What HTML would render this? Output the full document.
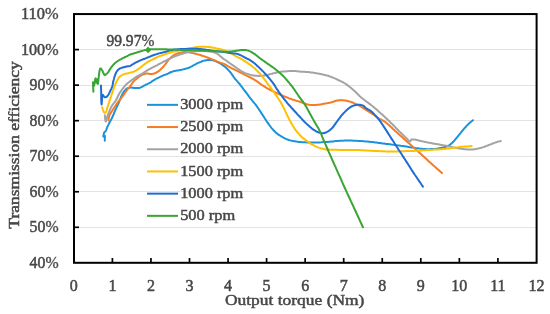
<!DOCTYPE html>
<html><head><meta charset="utf-8"><style>
html,body{margin:0;padding:0;background:#fff;width:550px;height:314px;overflow:hidden;}
svg{display:block;will-change:transform;}
text{font-family:"Liberation Serif",serif;}
</style></head><body>
<svg width="550" height="314" viewBox="0 0 550 314"><line x1="75" y1="49.50" x2="535.5" y2="49.50" stroke="#e2e2e2" stroke-width="1"/>
<line x1="75" y1="85.50" x2="535.5" y2="85.50" stroke="#e2e2e2" stroke-width="1"/>
<line x1="75" y1="120.50" x2="535.5" y2="120.50" stroke="#e2e2e2" stroke-width="1"/>
<line x1="75" y1="156.50" x2="535.5" y2="156.50" stroke="#e2e2e2" stroke-width="1"/>
<line x1="75" y1="191.50" x2="535.5" y2="191.50" stroke="#e2e2e2" stroke-width="1"/>
<line x1="75" y1="227.50" x2="535.5" y2="227.50" stroke="#e2e2e2" stroke-width="1"/>
<polyline points="104.8,140.8 104.8,139.8 104.8,138.7 104.9,137.6 104.9,136.6 104.8,135.8 104.6,135.5 104.4,135.5 104.2,135.8 104.0,136.0 103.7,136.3 103.5,136.5 103.4,136.6 103.3,136.3 103.4,135.6 103.6,134.7 103.8,133.8 104.1,132.9 104.4,132.3 104.6,132.1 104.8,131.9 105.0,131.7 105.2,131.6 105.4,131.4 105.6,131.2 105.9,130.7 106.2,130.0 106.5,129.3 106.7,128.5 107.0,127.8 107.3,127.1 107.6,126.5 107.8,126.0 108.1,125.4 108.4,124.9 108.6,124.4 108.9,123.8 109.2,123.2 109.5,122.6 109.9,122.0 110.2,121.4 110.5,120.8 110.8,120.2 111.1,119.7 111.3,119.2 111.6,118.7 111.8,118.3 112.1,117.8 112.3,117.3 112.5,116.8 112.7,116.3 113.0,115.8 113.2,115.3 113.4,114.8 113.6,114.3 113.9,113.7 114.1,113.0 114.4,112.3 114.7,111.6 115.0,110.9 115.3,110.2 115.6,109.5 115.9,108.8 116.2,108.1 116.6,107.4 116.9,106.7 117.2,106.0 117.5,105.3 117.8,104.6 118.2,104.0 118.5,103.3 118.8,102.6 119.1,101.9 119.4,101.1 119.7,100.3 120.0,99.5 120.4,98.7 120.7,98.0 121.0,97.2 121.3,96.5 121.6,95.8 121.9,95.1 122.2,94.4 122.6,93.8 122.9,93.2 123.2,92.7 123.5,92.3 123.8,91.8 124.1,91.4 124.5,91.0 124.8,90.6 125.1,90.2 125.4,89.9 125.7,89.5 126.0,89.2 126.4,88.9 126.8,88.6 127.3,88.3 127.9,88.1 128.6,87.9 129.2,87.8 129.9,87.7 130.6,87.6 131.4,87.6 132.3,87.7 133.1,87.8 134.0,87.9 134.9,88.0 135.7,88.1 136.4,88.1 137.0,88.1 137.6,88.1 138.2,88.1 138.9,88.0 139.5,87.9 140.3,87.6 141.2,87.2 142.0,86.8 142.9,86.3 143.7,85.8 144.6,85.3 145.5,84.9 146.3,84.5 147.2,84.1 148.0,83.7 148.9,83.3 149.7,82.8 150.6,82.3 151.4,81.8 152.3,81.2 153.1,80.7 153.9,80.1 154.8,79.6 155.6,79.1 156.5,78.7 157.4,78.2 158.2,77.8 159.1,77.4 159.9,77.0 160.6,76.6 161.3,76.3 162.1,76.0 162.8,75.6 163.4,75.3 164.0,75.1 164.4,75.0 164.7,74.9 165.0,74.8 165.3,74.7 165.6,74.6 166.0,74.5 166.9,74.1 167.9,73.7 169.0,73.1 170.1,72.5 171.3,72.0 172.4,71.6 173.5,71.3 174.6,71.0 175.8,70.8 176.9,70.6 178.0,70.4 179.1,70.2 179.9,70.0 180.8,69.9 181.6,69.7 182.3,69.6 183.1,69.4 183.9,69.2 184.7,69.0 185.5,68.8 186.3,68.6 187.1,68.3 187.9,68.1 188.7,67.8 189.5,67.5 190.3,67.1 191.0,66.7 191.8,66.3 192.6,65.8 193.4,65.4 194.4,64.9 195.5,64.3 196.6,63.7 197.7,63.1 198.9,62.6 200.0,62.1 201.1,61.7 202.1,61.3 203.2,60.9 204.3,60.6 205.3,60.4 206.4,60.2 207.4,60.1 208.5,60.0 209.6,60.0 210.6,60.0 211.7,60.1 212.7,60.3 213.8,60.6 214.9,60.9 215.9,61.3 217.0,61.8 218.1,62.3 219.1,62.8 220.2,63.4 221.3,64.1 222.4,64.9 223.5,65.7 224.5,66.5 225.5,67.3 226.4,68.1 227.3,68.9 228.1,69.8 228.9,70.6 229.7,71.5 230.5,72.4 231.2,73.3 231.8,74.2 232.4,75.2 233.1,76.1 233.7,77.0 234.4,78.0 235.3,79.1 236.2,80.1 237.2,81.2 238.1,82.3 239.1,83.4 240.0,84.5 240.8,85.6 241.6,86.6 242.4,87.7 243.2,88.8 244.0,89.9 244.9,91.0 246.0,92.4 247.1,93.9 248.2,95.4 249.3,96.9 250.4,98.3 251.5,99.7 252.4,100.8 253.3,101.8 254.1,102.9 255.0,103.9 255.8,104.9 256.7,106.1 257.8,107.7 258.9,109.3 260.1,111.1 261.2,112.9 262.4,114.6 263.4,116.2 264.2,117.4 265.0,118.7 265.7,119.8 266.5,121.0 267.2,122.1 268.0,123.2 268.8,124.3 269.5,125.3 270.3,126.3 271.0,127.3 271.8,128.3 272.6,129.2 273.3,130.0 274.0,130.8 274.8,131.5 275.5,132.2 276.2,132.9 277.0,133.5 277.8,134.1 278.5,134.6 279.3,135.2 280.1,135.7 280.9,136.1 281.7,136.6 282.4,137.0 283.1,137.4 283.8,137.8 284.5,138.2 285.3,138.6 286.0,138.9 286.7,139.2 287.5,139.5 288.2,139.7 289.0,140.0 289.7,140.2 290.5,140.4 291.2,140.6 292.0,140.8 292.7,140.9 293.5,141.0 294.2,141.2 295.0,141.3 295.8,141.4 296.5,141.6 297.3,141.7 298.1,141.8 299.0,141.9 300.0,142.0 302.1,142.2 304.6,142.3 307.4,142.4 310.3,142.5 313.1,142.5 315.9,142.5 318.6,142.4 321.4,142.3 324.2,142.1 326.9,141.9 329.5,141.7 331.8,141.5 333.2,141.4 334.4,141.2 335.6,141.1 336.7,141.0 337.9,140.9 339.2,140.8 340.9,140.7 342.7,140.7 344.5,140.6 346.4,140.6 348.2,140.6 350.0,140.6 351.7,140.6 353.3,140.7 355.0,140.7 356.6,140.8 358.3,140.9 360.0,141.0 361.8,141.1 363.7,141.2 365.5,141.4 367.4,141.5 369.2,141.7 371.1,141.9 373.0,142.1 374.8,142.4 376.7,142.6 378.6,142.9 380.4,143.1 382.3,143.4 384.2,143.6 386.0,143.9 387.9,144.1 389.7,144.3 391.5,144.6 393.4,144.8 395.3,145.0 397.1,145.3 399.0,145.5 400.9,145.8 402.7,146.0 404.6,146.3 406.5,146.6 408.3,146.9 410.1,147.2 412.0,147.5 413.8,147.8 415.7,148.1 417.6,148.3 419.5,148.6 421.4,148.8 423.2,149.0 425.1,149.1 426.9,149.2 428.5,149.2 430.1,149.2 431.6,149.1 433.1,149.0 434.6,148.9 436.0,148.8 437.1,148.7 438.2,148.5 439.3,148.3 440.3,148.1 441.2,148.0 442.0,147.8 442.4,147.7 442.7,147.6 443.0,147.6 443.3,147.5 443.6,147.4 444.0,147.3 444.5,147.1 445.1,147.0 445.8,146.8 446.4,146.6 447.0,146.3 447.6,146.1 448.1,145.8 448.6,145.6 449.1,145.3 449.6,145.0 450.0,144.6 450.5,144.3 451.0,143.9 451.5,143.4 452.0,143.0 452.5,142.5 453.0,142.0 453.5,141.5 454.0,140.9 454.5,140.4 455.0,139.8 455.5,139.2 456.0,138.6 456.5,138.0 457.0,137.4 457.5,136.8 458.0,136.2 458.5,135.5 459.0,134.9 459.5,134.3 460.0,133.7 460.5,133.1 461.0,132.4 461.5,131.8 462.0,131.2 462.5,130.6 463.0,130.0 463.5,129.4 464.0,128.8 464.5,128.3 465.0,127.7 465.5,127.1 466.1,126.5 466.6,125.9 467.2,125.3 467.8,124.7 468.4,124.1 469.0,123.5 469.6,122.9 470.3,122.4 471.0,121.8 471.7,121.3 472.3,120.7 473.0,120.2" fill="none" stroke="#1b93db" stroke-width="2.0" stroke-linejoin="round" stroke-linecap="round"/>
<polyline points="108.6,120.5 108.7,119.8 108.7,119.1 108.7,118.4 108.8,117.7 108.9,117.0 109.1,116.2 109.5,115.2 110.1,114.1 110.7,113.0 111.4,111.9 112.2,110.7 112.9,109.6 113.7,108.3 114.6,107.0 115.5,105.7 116.4,104.4 117.2,103.2 118.1,102.0 118.8,101.1 119.5,100.2 120.2,99.3 120.9,98.5 121.6,97.6 122.3,96.7 123.0,95.7 123.7,94.8 124.4,93.8 125.1,92.8 125.7,91.8 126.4,90.9 127.0,90.2 127.5,89.5 128.0,88.8 128.6,88.2 129.1,87.5 129.7,86.8 130.4,85.9 131.1,84.8 131.9,83.8 132.6,82.7 133.3,81.8 134.0,81.0 134.4,80.6 134.8,80.2 135.3,79.8 135.7,79.5 136.1,79.2 136.5,78.8 137.0,78.4 137.4,78.0 137.9,77.6 138.4,77.2 138.9,76.8 139.5,76.4 140.3,75.9 141.1,75.4 142.0,75.0 142.9,74.5 143.8,74.2 144.6,73.9 145.1,73.8 145.6,73.7 146.1,73.6 146.6,73.6 147.0,73.6 147.5,73.6 148.0,73.6 148.5,73.7 149.0,73.8 149.5,73.9 150.0,74.0 150.5,74.0 150.9,74.0 151.4,74.0 151.8,74.0 152.2,73.9 152.6,73.9 153.0,73.8 153.4,73.7 153.8,73.6 154.3,73.5 154.7,73.3 155.1,73.2 155.5,73.0 155.9,72.8 156.4,72.6 156.8,72.3 157.2,72.0 157.6,71.8 158.0,71.5 158.3,71.3 158.7,71.1 159.0,70.8 159.3,70.6 159.6,70.3 160.0,70.0 160.7,69.3 161.5,68.6 162.3,67.7 163.2,66.8 164.0,65.8 164.8,64.9 165.6,63.9 166.4,62.8 167.2,61.7 168.0,60.6 168.8,59.6 169.6,58.7 170.4,58.0 171.1,57.3 171.9,56.6 172.7,56.0 173.5,55.4 174.3,54.9 175.1,54.5 175.9,54.1 176.7,53.8 177.5,53.5 178.3,53.2 179.1,53.0 179.9,52.8 180.7,52.6 181.5,52.4 182.3,52.2 183.1,52.1 183.9,52.0 184.7,52.0 185.5,52.0 186.3,52.0 187.1,52.1 187.9,52.2 188.7,52.3 189.5,52.4 190.3,52.6 191.1,52.8 191.8,52.9 192.6,53.1 193.4,53.3 194.2,53.5 195.0,53.6 195.7,53.8 196.5,54.0 197.3,54.2 198.2,54.4 199.5,54.8 200.8,55.2 202.2,55.7 203.7,56.1 205.1,56.6 206.4,57.1 207.5,57.5 208.6,57.9 209.6,58.3 210.6,58.8 211.7,59.2 212.7,59.6 213.8,60.0 214.8,60.5 215.9,60.9 217.0,61.4 218.0,61.8 219.1,62.2 220.1,62.6 221.1,62.9 222.1,63.3 223.1,63.6 224.1,64.0 225.0,64.4 225.8,64.8 226.6,65.3 227.3,65.7 228.0,66.2 228.8,66.7 229.5,67.1 230.3,67.5 231.0,67.9 231.8,68.3 232.6,68.7 233.3,69.0 234.1,69.4 234.9,69.8 235.6,70.1 236.3,70.5 237.1,70.9 237.8,71.2 238.6,71.6 239.4,72.0 240.1,72.4 240.9,72.7 241.7,73.1 242.4,73.5 243.2,73.9 244.0,74.3 244.7,74.7 245.4,75.1 246.2,75.4 246.9,75.8 247.7,76.2 248.5,76.6 249.2,77.0 250.0,77.3 250.8,77.7 251.5,78.1 252.3,78.5 253.1,78.9 253.8,79.4 254.6,79.8 255.4,80.3 256.1,80.7 256.8,81.2 257.4,81.6 257.9,82.0 258.4,82.4 258.9,82.8 259.4,83.2 260.0,83.6 260.9,84.3 262.0,85.0 263.0,85.7 264.2,86.4 265.3,87.1 266.4,87.8 267.4,88.4 268.5,88.9 269.5,89.5 270.6,90.0 271.6,90.5 272.7,91.0 273.8,91.5 274.8,92.1 275.9,92.6 277.0,93.2 278.0,93.7 279.1,94.2 280.2,94.7 281.2,95.1 282.3,95.5 283.4,96.0 284.4,96.4 285.5,96.8 286.5,97.2 287.6,97.6 288.6,98.1 289.6,98.5 290.7,98.9 291.8,99.3 293.1,99.7 294.5,100.1 295.8,100.6 297.2,101.0 298.6,101.4 300.0,101.8 301.3,102.3 302.7,102.8 304.0,103.3 305.3,103.8 306.7,104.3 308.0,104.6 309.3,104.8 310.6,104.9 311.9,105.0 313.3,105.0 314.6,105.0 315.9,104.9 317.2,104.8 318.6,104.7 319.9,104.5 321.2,104.3 322.6,104.0 323.9,103.8 325.3,103.6 326.6,103.3 328.0,103.1 329.4,102.8 330.6,102.5 331.8,102.2 332.6,102.0 333.3,101.7 333.9,101.5 334.6,101.2 335.3,101.0 336.0,100.8 337.0,100.6 338.0,100.5 339.1,100.3 340.1,100.2 341.2,100.2 342.3,100.2 343.4,100.3 344.4,100.4 345.5,100.6 346.6,100.8 347.6,101.0 348.7,101.3 349.8,101.6 350.8,101.9 351.9,102.3 352.9,102.7 354.0,103.2 355.0,103.6 356.1,104.1 357.2,104.6 358.3,105.2 359.4,105.7 360.4,106.3 361.4,106.9 362.2,107.4 363.0,107.9 363.7,108.4 364.4,108.9 365.2,109.5 366.0,110.0 367.0,110.6 368.1,111.2 369.1,111.8 370.2,112.5 371.3,113.1 372.4,113.8 373.5,114.5 374.5,115.3 375.5,116.1 376.6,116.8 377.6,117.6 378.7,118.3 379.7,118.9 380.8,119.4 381.8,119.9 382.8,120.5 383.9,121.1 385.0,121.8 386.6,123.0 388.2,124.4 389.9,126.0 391.6,127.6 393.3,129.2 395.0,130.8 396.7,132.3 398.3,133.8 400.0,135.3 401.7,136.8 403.3,138.3 405.0,139.8 406.7,141.3 408.3,142.8 410.0,144.3 411.7,145.8 413.3,147.3 415.0,148.8 416.7,150.3 418.3,151.8 420.0,153.3 421.7,154.8 423.3,156.3 425.0,157.8 426.7,159.3 428.4,160.9 430.1,162.4 431.8,163.9 433.4,165.4 435.0,166.8 436.2,167.9 437.4,169.0 438.6,170.0 439.7,171.0 440.8,172.1 442.0,173.1" fill="none" stroke="#f77b22" stroke-width="2.0" stroke-linejoin="round" stroke-linecap="round"/>
<polyline points="104.8,115.3 105.0,116.5 105.1,117.8 105.2,119.2 105.4,120.3 105.6,121.2 105.8,121.5 106.1,121.2 106.3,120.4 106.6,119.3 106.9,117.9 107.3,116.5 107.7,115.3 108.3,113.8 109.0,112.1 109.7,110.4 110.4,108.7 111.2,107.1 112.0,105.7 112.6,104.8 113.2,104.0 113.9,103.2 114.5,102.4 115.1,101.7 115.7,100.8 116.3,99.8 116.8,98.7 117.4,97.5 117.9,96.4 118.4,95.3 119.0,94.2 119.5,93.3 120.1,92.4 120.6,91.6 121.2,90.8 121.7,90.0 122.3,89.2 122.8,88.5 123.4,87.8 123.9,87.1 124.5,86.4 125.0,85.7 125.6,85.1 126.1,84.6 126.7,84.1 127.2,83.6 127.8,83.1 128.3,82.7 128.9,82.2 129.5,81.8 130.0,81.3 130.6,80.9 131.2,80.4 131.7,80.0 132.2,79.7 132.5,79.5 132.8,79.3 133.1,79.2 133.4,79.1 133.7,78.9 134.0,78.7 134.3,78.4 134.7,78.1 135.0,77.8 135.4,77.5 135.8,77.1 136.2,76.8 136.9,76.4 137.6,76.0 138.5,75.6 139.3,75.2 140.2,74.7 141.0,74.3 141.8,73.8 142.6,73.4 143.4,72.9 144.2,72.4 145.0,71.9 145.8,71.4 146.6,70.9 147.4,70.4 148.2,69.9 149.0,69.4 149.8,69.0 150.6,68.5 151.4,68.1 152.2,67.7 152.9,67.3 153.7,66.9 154.5,66.5 155.3,66.1 156.1,65.7 156.9,65.3 157.6,64.9 158.4,64.4 159.2,64.0 160.0,63.6 160.8,63.2 161.6,62.8 162.4,62.3 163.2,61.9 164.0,61.5 164.8,61.1 165.6,60.7 166.4,60.3 167.2,59.9 168.0,59.5 168.8,59.1 169.6,58.7 170.4,58.3 171.2,57.9 171.9,57.6 172.7,57.2 173.5,56.8 174.3,56.5 175.1,56.2 175.9,55.9 176.7,55.7 177.5,55.4 178.3,55.2 179.1,54.9 179.9,54.6 180.7,54.4 181.5,54.1 182.3,53.8 183.1,53.5 183.9,53.3 184.7,53.1 185.5,52.8 186.3,52.6 187.1,52.4 187.9,52.2 188.7,52.0 189.5,51.9 190.3,51.7 191.0,51.6 191.8,51.6 192.6,51.5 193.4,51.4 194.2,51.3 195.0,51.3 195.8,51.2 196.6,51.2 197.4,51.1 198.2,51.1 199.0,51.1 199.8,51.0 200.6,51.0 201.4,51.0 202.2,51.0 203.0,51.0 204.0,51.0 204.9,51.0 205.9,51.1 206.9,51.2 208.0,51.3 209.0,51.4 210.2,51.6 211.5,51.8 212.8,52.1 214.1,52.4 215.3,52.8 216.5,53.3 217.7,54.0 218.9,54.9 220.0,55.9 221.1,56.8 222.0,57.7 222.9,58.4 223.3,58.7 223.6,58.9 224.0,59.1 224.3,59.3 224.6,59.5 225.0,59.8 225.7,60.3 226.4,60.8 227.1,61.3 227.9,61.9 228.7,62.5 229.5,63.0 230.3,63.5 231.0,64.1 231.8,64.6 232.6,65.1 233.3,65.7 234.1,66.2 234.9,66.7 235.6,67.3 236.3,67.8 237.1,68.4 237.8,68.9 238.6,69.4 239.4,69.9 240.1,70.4 240.9,70.8 241.7,71.3 242.4,71.7 243.2,72.1 243.9,72.4 244.7,72.8 245.4,73.1 246.2,73.4 246.9,73.6 247.7,73.9 248.5,74.2 249.2,74.4 250.0,74.7 250.8,74.9 251.5,75.1 252.3,75.3 253.0,75.4 253.8,75.5 254.5,75.6 255.3,75.7 256.0,75.8 256.8,75.8 257.6,75.8 258.3,75.9 259.1,75.9 259.9,75.9 260.6,75.8 261.4,75.8 262.2,75.7 262.9,75.7 263.7,75.6 264.4,75.5 265.2,75.3 265.9,75.2 266.7,75.0 267.4,74.9 268.2,74.7 269.0,74.5 269.7,74.3 270.5,74.1 271.2,73.9 272.0,73.7 272.7,73.5 273.5,73.3 274.2,73.1 275.0,72.9 275.9,72.7 276.9,72.5 277.8,72.3 278.8,72.1 279.8,72.0 280.9,71.8 282.2,71.6 283.6,71.5 285.0,71.4 286.4,71.3 287.8,71.2 289.1,71.1 290.1,71.0 291.1,71.0 292.0,71.0 293.0,71.0 293.9,71.0 294.8,71.0 295.7,71.1 296.5,71.2 297.4,71.3 298.3,71.4 299.1,71.5 300.0,71.6 300.9,71.7 301.8,71.7 302.7,71.7 303.6,71.8 304.5,71.8 305.5,71.9 306.8,72.0 308.1,72.1 309.5,72.2 310.8,72.4 312.2,72.5 313.6,72.7 315.0,72.9 316.4,73.2 317.8,73.4 319.2,73.7 320.5,74.0 321.8,74.3 322.9,74.5 323.9,74.8 324.9,75.0 325.9,75.2 326.9,75.5 328.0,75.8 329.3,76.2 330.7,76.8 332.1,77.3 333.5,77.9 334.8,78.4 335.9,78.9 336.6,79.2 337.2,79.5 337.7,79.7 338.3,80.0 338.9,80.3 339.5,80.6 340.4,81.0 341.3,81.5 342.3,81.9 343.2,82.4 344.2,83.0 345.1,83.5 346.0,84.1 346.8,84.7 347.7,85.3 348.5,86.0 349.4,86.6 350.2,87.3 351.1,88.0 351.9,88.7 352.8,89.4 353.6,90.2 354.5,90.9 355.3,91.7 356.2,92.5 357.0,93.4 357.8,94.3 358.7,95.1 359.5,96.0 360.4,96.8 361.3,97.6 362.2,98.3 363.1,99.0 364.1,99.7 365.0,100.5 366.0,101.2 367.0,102.0 368.1,102.8 369.2,103.6 370.3,104.4 371.3,105.2 372.4,106.0 373.5,106.9 374.5,107.8 375.6,108.7 376.6,109.6 377.7,110.6 378.7,111.5 379.8,112.4 380.8,113.4 381.9,114.3 383.0,115.3 384.0,116.2 385.1,117.2 386.2,118.2 387.2,119.2 388.3,120.3 389.4,121.3 390.4,122.4 391.5,123.4 392.6,124.5 393.6,125.5 394.7,126.6 395.7,127.7 396.8,128.8 397.8,129.8 398.7,130.7 399.6,131.6 400.5,132.5 401.4,133.3 402.2,134.1 403.0,134.9 403.6,135.5 404.2,136.1 404.8,136.7 405.4,137.2 405.9,137.8 406.5,138.3 407.1,138.9 407.7,139.6 408.4,140.3 409.0,141.0 409.5,141.4 410.0,141.5 410.3,141.3 410.5,141.0 410.7,140.6 410.9,140.1 411.1,139.8 411.4,139.5 411.7,139.4 411.9,139.4 412.2,139.4 412.6,139.4 412.9,139.5 413.3,139.5 414.3,139.6 415.5,139.8 416.9,140.1 418.3,140.4 419.7,140.7 421.0,141.0 422.2,141.2 423.3,141.5 424.4,141.7 425.6,142.0 426.8,142.2 428.0,142.5 429.5,142.8 431.1,143.1 432.8,143.4 434.5,143.7 436.2,144.0 437.8,144.3 439.4,144.6 441.1,144.9 442.7,145.2 444.3,145.5 445.9,145.8 447.5,146.1 448.9,146.4 450.2,146.6 451.5,146.9 452.7,147.2 454.0,147.4 455.3,147.7 456.6,147.9 457.8,148.2 459.1,148.4 460.3,148.6 461.6,148.8 462.9,149.0 464.4,149.2 465.9,149.3 467.4,149.4 468.9,149.5 470.4,149.5 471.8,149.5 472.9,149.4 474.0,149.3 475.1,149.2 476.1,149.0 477.2,148.8 478.2,148.6 479.3,148.3 480.3,148.1 481.4,147.7 482.4,147.4 483.5,147.1 484.5,146.7 485.6,146.3 486.7,145.9 487.7,145.5 488.8,145.0 489.9,144.6 490.9,144.2 491.8,143.9 492.6,143.5 493.5,143.2 494.3,142.9 495.2,142.6 496.0,142.3 496.8,142.1 497.6,141.8 498.4,141.6 499.2,141.4 500.0,141.2 500.8,141.0" fill="none" stroke="#a3a3a3" stroke-width="2.0" stroke-linejoin="round" stroke-linecap="round"/>
<polyline points="102.2,107.2 102.4,107.9 102.5,108.5 102.7,109.2 102.9,109.9 103.1,110.5 103.3,111.0 103.5,111.4 103.7,111.8 103.9,112.1 104.1,112.4 104.4,112.7 104.6,112.8 104.8,112.8 105.0,112.8 105.2,112.7 105.4,112.6 105.6,112.5 105.8,112.3 106.2,111.7 106.5,110.9 106.8,109.9 107.0,108.9 107.3,107.8 107.6,106.8 107.9,105.9 108.2,104.9 108.5,104.0 108.9,103.0 109.2,102.1 109.5,101.1 109.8,100.1 110.1,99.2 110.5,98.2 110.8,97.2 111.1,96.3 111.4,95.3 111.7,94.3 112.0,93.4 112.3,92.4 112.7,91.5 113.0,90.5 113.3,89.6 113.6,88.7 113.9,87.9 114.2,87.0 114.5,86.1 114.9,85.3 115.2,84.5 115.5,83.8 115.8,83.0 116.2,82.3 116.5,81.6 116.9,80.9 117.2,80.3 117.5,79.8 117.8,79.2 118.1,78.7 118.4,78.2 118.7,77.7 119.0,77.3 119.3,77.0 119.6,76.7 119.9,76.5 120.2,76.3 120.5,76.0 120.9,75.8 121.4,75.5 122.1,75.1 122.7,74.8 123.4,74.4 124.1,74.1 124.7,73.9 125.3,73.7 125.9,73.6 126.4,73.5 127.0,73.5 127.5,73.4 128.0,73.3 128.3,73.2 128.5,73.1 128.8,73.1 129.0,73.0 129.3,72.9 129.6,72.8 130.2,72.6 131.0,72.4 131.8,72.2 132.7,72.0 133.5,71.7 134.3,71.4 135.1,71.0 135.9,70.6 136.7,70.1 137.5,69.6 138.3,69.0 139.1,68.5 139.9,67.9 140.7,67.3 141.5,66.6 142.3,66.0 143.1,65.3 143.9,64.7 144.7,64.1 145.5,63.5 146.3,63.0 147.1,62.4 147.9,61.9 148.7,61.4 149.5,61.0 150.2,60.6 151.0,60.2 151.8,59.8 152.6,59.4 153.4,59.0 154.4,58.5 155.5,58.0 156.7,57.4 157.8,56.9 158.9,56.4 160.0,56.0 160.8,55.7 161.6,55.4 162.4,55.2 163.2,54.9 164.0,54.7 164.8,54.4 165.6,54.1 166.4,53.8 167.2,53.5 168.0,53.2 168.8,53.0 169.6,52.7 170.4,52.5 171.2,52.3 171.9,52.1 172.7,51.9 173.5,51.8 174.3,51.6 175.1,51.4 175.9,51.3 176.7,51.1 177.5,50.9 178.3,50.8 179.1,50.6 179.9,50.4 180.7,50.3 181.5,50.1 182.3,49.9 183.1,49.8 183.9,49.6 184.7,49.4 185.5,49.3 186.3,49.2 187.1,49.0 187.9,48.9 188.7,48.7 189.5,48.5 190.3,48.4 191.0,48.2 191.8,48.0 192.6,47.9 193.4,47.7 194.2,47.5 194.9,47.4 195.7,47.2 196.5,47.1 197.3,47.0 198.2,46.9 199.6,46.8 201.1,46.7 202.7,46.7 204.4,46.7 206.0,46.8 207.6,46.9 209.1,47.1 210.6,47.3 212.1,47.5 213.5,47.8 215.0,48.1 216.5,48.4 218.0,48.7 219.5,49.0 221.1,49.4 222.6,49.8 224.1,50.2 225.5,50.7 226.9,51.3 228.2,51.9 229.6,52.6 230.9,53.3 232.1,53.9 233.1,54.5 233.7,54.8 234.1,55.1 234.6,55.4 235.0,55.7 235.5,56.0 236.0,56.3 236.7,56.7 237.5,57.1 238.3,57.5 239.2,57.9 240.0,58.3 240.8,58.7 241.6,59.2 242.4,59.6 243.2,60.1 244.0,60.6 244.8,61.1 245.6,61.6 246.4,62.1 247.2,62.7 248.0,63.2 248.7,63.8 249.5,64.3 250.3,64.9 251.1,65.5 251.9,66.1 252.7,66.8 253.5,67.4 254.3,68.1 255.1,68.8 255.9,69.6 256.8,70.4 257.6,71.2 258.4,72.0 259.2,72.9 260.0,73.8 260.9,74.8 261.7,75.8 262.6,76.9 263.4,78.0 264.3,79.1 265.1,80.2 266.0,81.3 266.8,82.5 267.7,83.7 268.5,84.9 269.4,86.0 270.2,87.2 271.1,88.4 271.9,89.5 272.8,90.7 273.6,91.8 274.5,93.0 275.3,94.2 276.2,95.4 277.1,96.7 277.9,98.0 278.8,99.3 279.6,100.5 280.4,101.8 281.1,103.0 281.7,104.1 282.3,105.3 282.9,106.4 283.6,107.6 284.2,108.9 285.0,110.6 285.9,112.4 286.7,114.2 287.6,116.1 288.5,117.9 289.3,119.5 289.9,120.7 290.6,121.8 291.2,122.9 291.8,124.0 292.4,125.0 293.0,126.0 293.6,126.9 294.1,127.8 294.7,128.7 295.3,129.6 295.9,130.4 296.5,131.2 297.1,131.9 297.6,132.6 298.2,133.3 298.8,133.9 299.4,134.6 300.0,135.2 300.6,135.8 301.1,136.3 301.7,136.9 302.3,137.4 302.9,137.9 303.5,138.4 304.1,138.9 304.7,139.3 305.2,139.8 305.8,140.2 306.4,140.7 307.0,141.1 307.5,141.5 308.0,141.9 308.6,142.2 309.1,142.6 309.6,142.9 310.2,143.3 310.9,143.8 311.7,144.3 312.5,144.7 313.4,145.2 314.2,145.7 315.0,146.1 315.7,146.5 316.5,146.8 317.2,147.1 317.9,147.4 318.7,147.6 319.5,147.9 320.5,148.2 321.5,148.5 322.5,148.8 323.6,149.0 324.6,149.2 325.6,149.4 326.4,149.5 327.1,149.6 327.8,149.6 328.6,149.6 329.4,149.7 330.3,149.7 332.1,149.8 334.2,149.8 336.5,149.8 338.9,149.9 341.3,149.9 343.6,149.9 345.8,149.9 348.1,149.9 350.3,149.9 352.5,149.9 354.8,149.9 357.0,150.0 359.2,150.1 361.4,150.2 363.5,150.3 365.7,150.5 367.9,150.6 370.0,150.7 372.1,150.8 374.1,150.9 376.2,151.0 378.3,151.1 380.3,151.2 382.3,151.3 384.2,151.3 386.0,151.4 387.9,151.4 389.7,151.4 391.6,151.4 393.4,151.4 395.3,151.4 397.1,151.4 399.0,151.3 400.9,151.3 402.7,151.2 404.6,151.2 406.5,151.1 408.3,151.1 410.2,151.0 412.0,151.0 413.8,150.9 415.7,150.8 417.6,150.7 419.4,150.6 421.3,150.5 423.2,150.3 425.0,150.2 426.9,150.1 428.8,150.0 430.6,149.9 432.5,149.8 434.4,149.6 436.2,149.5 438.0,149.4 439.7,149.3 441.3,149.2 442.9,149.0 444.5,148.9 446.1,148.8 447.6,148.6 448.9,148.4 450.2,148.3 451.5,148.1 452.8,147.9 454.0,147.8 455.3,147.6 456.6,147.4 457.8,147.3 459.1,147.1 460.3,147.0 461.6,146.8 462.9,146.7 464.3,146.6 465.8,146.5 467.2,146.4 468.7,146.3 470.1,146.2 471.6,146.1" fill="none" stroke="#ffc000" stroke-width="2.0" stroke-linejoin="round" stroke-linecap="round"/>
<polyline points="101.0,85.5 101.1,89.1 101.2,93.2 101.2,97.4 101.3,101.0 101.4,103.5 101.6,104.5 101.7,103.8 101.8,102.1 102.0,99.8 102.1,97.5 102.4,95.7 102.7,94.9 102.9,95.0 103.1,95.2 103.3,95.6 103.5,96.0 103.8,96.3 104.0,96.6 104.2,96.8 104.4,96.9 104.6,97.1 104.8,97.2 105.0,97.3 105.2,97.3 105.5,97.3 105.7,97.2 106.0,97.1 106.3,97.0 106.5,96.8 106.8,96.6 107.1,96.3 107.4,96.0 107.7,95.7 108.0,95.3 108.2,94.9 108.5,94.5 108.8,94.0 109.0,93.6 109.3,93.1 109.5,92.6 109.7,92.0 110.0,91.5 110.3,90.8 110.7,90.1 111.0,89.4 111.4,88.6 111.7,87.8 112.0,87.0 112.3,86.0 112.6,84.9 112.8,83.8 113.0,82.7 113.2,81.6 113.5,80.5 113.8,79.5 114.1,78.4 114.3,77.4 114.6,76.4 115.0,75.4 115.3,74.5 115.6,73.8 115.9,73.2 116.1,72.6 116.4,72.0 116.8,71.5 117.1,71.0 117.4,70.6 117.7,70.2 118.0,69.9 118.3,69.6 118.7,69.3 119.0,69.0 119.3,68.8 119.6,68.6 119.9,68.5 120.2,68.4 120.5,68.2 120.9,68.1 121.5,67.9 122.1,67.7 122.7,67.5 123.4,67.3 124.1,67.2 124.7,67.0 125.3,66.8 125.9,66.7 126.4,66.5 127.0,66.4 127.5,66.3 128.0,66.2 128.3,66.2 128.5,66.2 128.8,66.2 129.0,66.2 129.3,66.2 129.6,66.1 130.3,65.8 131.0,65.4 131.8,64.9 132.6,64.3 133.5,63.8 134.3,63.3 135.1,62.9 135.9,62.5 136.7,62.0 137.5,61.7 138.3,61.3 139.1,60.9 139.9,60.6 140.7,60.2 141.5,59.9 142.3,59.6 143.1,59.3 143.9,59.0 144.7,58.7 145.5,58.4 146.3,58.1 147.1,57.7 147.9,57.4 148.7,57.1 149.5,56.8 150.2,56.5 151.0,56.1 151.8,55.8 152.6,55.5 153.4,55.2 154.4,54.8 155.5,54.5 156.7,54.1 157.8,53.7 158.9,53.4 160.0,53.1 160.8,52.9 161.7,52.7 162.4,52.5 163.2,52.4 164.0,52.2 164.8,52.0 165.6,51.8 166.4,51.5 167.2,51.3 168.0,51.0 168.8,50.8 169.6,50.6 170.4,50.4 171.2,50.2 171.9,50.0 172.7,49.9 173.5,49.7 174.3,49.6 175.1,49.5 175.8,49.4 176.6,49.4 177.4,49.3 178.2,49.3 179.1,49.2 180.5,49.1 182.1,49.0 183.7,49.0 185.4,48.9 187.1,48.8 188.7,48.8 190.3,48.8 191.9,48.8 193.6,48.8 195.2,48.8 196.7,48.8 198.2,48.9 199.4,49.0 200.5,49.1 201.6,49.2 202.7,49.3 203.9,49.5 205.0,49.6 206.2,49.8 207.5,49.9 208.7,50.1 210.0,50.3 211.3,50.5 212.7,50.7 214.7,51.0 216.8,51.2 219.1,51.5 221.4,51.8 223.5,52.1 225.5,52.3 226.9,52.5 228.3,52.7 229.6,52.9 230.9,53.0 232.1,53.2 233.1,53.3 233.7,53.4 234.1,53.4 234.6,53.4 235.0,53.4 235.5,53.5 236.0,53.6 236.7,53.8 237.5,54.0 238.4,54.3 239.2,54.6 240.0,55.0 240.8,55.3 241.5,55.6 242.2,56.0 242.9,56.4 243.6,56.8 244.3,57.2 245.0,57.6 245.7,58.0 246.5,58.3 247.2,58.7 248.0,59.0 248.8,59.4 249.5,59.8 250.3,60.3 251.1,60.8 251.8,61.3 252.6,61.8 253.4,62.4 254.1,63.0 254.9,63.6 255.6,64.3 256.4,65.0 257.1,65.7 257.9,66.4 258.6,67.1 259.4,67.8 260.1,68.6 260.9,69.3 261.7,70.1 262.4,70.8 263.2,71.6 264.0,72.4 264.7,73.2 265.5,74.0 266.2,74.9 266.9,75.7 267.7,76.6 268.5,77.5 269.3,78.4 270.1,79.3 270.9,80.3 271.7,81.3 272.5,82.3 273.4,83.6 274.3,84.9 275.2,86.3 276.0,87.7 276.9,89.1 277.8,90.4 278.6,91.6 279.5,92.8 280.3,94.0 281.2,95.1 282.0,96.3 282.9,97.4 283.7,98.5 284.6,99.6 285.4,100.7 286.3,101.7 287.1,102.8 288.0,103.8 288.8,104.8 289.7,105.7 290.5,106.6 291.3,107.6 292.2,108.5 293.1,109.5 294.2,110.7 295.4,112.0 296.6,113.3 297.7,114.6 298.9,115.8 300.0,117.0 300.8,117.9 301.7,118.8 302.4,119.6 303.2,120.5 304.0,121.3 304.8,122.1 305.6,122.9 306.4,123.6 307.2,124.4 308.0,125.1 308.8,125.8 309.6,126.5 310.4,127.2 311.1,127.8 311.9,128.5 312.7,129.1 313.5,129.7 314.3,130.2 315.1,130.7 315.9,131.1 316.7,131.6 317.5,132.0 318.3,132.3 319.1,132.6 319.8,132.8 320.4,133.0 321.1,133.1 321.8,133.2 322.4,133.2 323.1,133.2 323.8,133.1 324.4,133.0 325.1,132.8 325.8,132.5 326.4,132.2 327.1,131.9 327.9,131.5 328.7,131.0 329.5,130.4 330.3,129.8 331.0,129.1 331.8,128.4 332.6,127.5 333.5,126.5 334.2,125.4 335.0,124.3 335.8,123.2 336.6,122.1 337.4,121.0 338.2,119.9 339.0,118.8 339.8,117.8 340.6,116.7 341.4,115.7 342.1,114.8 342.9,114.0 343.6,113.2 344.4,112.4 345.2,111.6 346.0,110.8 346.9,110.0 347.8,109.1 348.8,108.3 349.8,107.6 350.8,106.9 351.8,106.3 352.8,105.9 353.9,105.5 355.0,105.2 356.1,104.9 357.2,104.8 358.2,104.7 359.1,104.7 359.9,104.8 360.7,104.9 361.5,105.1 362.3,105.3 363.0,105.6 363.6,105.9 364.1,106.3 364.5,106.7 365.0,107.2 365.5,107.7 366.0,108.1 366.8,108.6 367.6,109.1 368.5,109.6 369.4,110.1 370.3,110.7 371.1,111.3 372.0,112.0 372.8,112.8 373.7,113.7 374.5,114.6 375.4,115.5 376.2,116.4 377.1,117.4 378.0,118.5 378.8,119.5 379.7,120.6 380.5,121.7 381.3,122.8 381.9,123.7 382.5,124.6 383.1,125.5 383.7,126.4 384.3,127.4 385.0,128.5 386.4,130.6 388.0,133.1 389.7,135.8 391.5,138.6 393.3,141.3 395.0,144.0 396.7,146.6 398.3,149.2 400.0,151.8 401.7,154.3 403.3,156.9 405.0,159.5 406.7,162.1 408.4,164.8 410.1,167.4 411.7,170.0 413.4,172.6 415.0,175.0 416.4,177.0 417.7,179.0 419.0,180.9 420.3,182.8 421.6,184.7 422.9,186.6" fill="none" stroke="#1f6dd2" stroke-width="2.0" stroke-linejoin="round" stroke-linecap="round"/>
<polyline points="93.4,91.8 93.3,90.0 93.2,87.9 93.1,85.9 93.0,84.1 92.9,82.8 93.0,82.3 93.1,82.6 93.2,83.3 93.3,84.1 93.5,85.0 93.6,85.7 93.8,86.0 94.1,85.4 94.4,84.0 94.7,82.1 95.0,80.3 95.3,78.9 95.6,78.3 95.8,78.6 95.9,79.5 96.0,80.6 96.2,81.6 96.3,82.5 96.4,82.8 96.5,82.5 96.6,81.9 96.8,81.0 96.9,80.2 97.0,79.6 97.1,79.3 97.2,79.7 97.3,80.5 97.4,81.7 97.6,82.8 97.7,83.7 97.8,84.0 98.0,83.2 98.3,81.2 98.6,78.5 98.9,75.5 99.2,72.9 99.5,71.0 99.6,70.4 99.8,69.8 99.9,69.3 100.1,68.8 100.3,68.5 100.5,68.4 100.8,68.5 101.1,68.8 101.4,69.2 101.7,69.7 102.1,70.3 102.4,70.8 102.8,71.5 103.1,72.4 103.5,73.3 103.9,74.1 104.3,74.7 104.7,75.0 105.1,75.0 105.6,74.7 106.1,74.4 106.6,73.9 107.1,73.4 107.6,72.9 108.1,72.3 108.6,71.6 109.0,70.8 109.5,70.1 109.9,69.3 110.4,68.6 110.9,67.9 111.3,67.3 111.8,66.6 112.3,66.0 112.8,65.4 113.3,64.8 113.9,64.2 114.5,63.6 115.1,63.1 115.7,62.5 116.4,62.0 117.1,61.5 117.8,61.0 118.6,60.5 119.4,60.0 120.2,59.5 121.0,59.1 121.9,58.6 122.9,58.1 124.0,57.6 125.1,57.0 126.2,56.6 127.2,56.1 128.0,55.7 128.3,55.5 128.6,55.3 128.8,55.2 129.0,55.0 129.3,54.9 129.6,54.7 130.2,54.5 131.0,54.2 131.8,54.0 132.6,53.8 133.5,53.5 134.3,53.3 135.1,53.1 135.9,52.8 136.7,52.5 137.5,52.3 138.3,52.0 139.1,51.8 139.9,51.6 140.7,51.3 141.5,51.1 142.3,50.8 143.1,50.6 143.9,50.4 144.5,50.2 145.2,50.1 145.8,49.9 146.4,49.8 147.0,49.7 147.7,49.6 148.6,49.5 149.5,49.4 150.4,49.3 151.4,49.3 152.4,49.2 153.4,49.2 154.5,49.2 155.5,49.2 156.6,49.2 157.7,49.2 158.8,49.2 160.0,49.2 161.5,49.2 163.1,49.2 164.7,49.3 166.3,49.3 168.0,49.4 169.6,49.4 171.2,49.5 172.8,49.5 174.4,49.6 175.9,49.7 177.5,49.7 179.1,49.8 180.7,49.9 182.3,49.9 183.9,50.0 185.5,50.0 187.1,50.1 188.7,50.1 190.3,50.1 191.9,50.2 193.6,50.2 195.2,50.3 196.7,50.3 198.2,50.4 199.4,50.4 200.5,50.5 201.6,50.5 202.7,50.6 203.9,50.6 205.0,50.7 206.2,50.8 207.5,50.8 208.7,50.9 210.0,51.0 211.3,51.0 212.7,51.1 214.7,51.2 216.9,51.3 219.3,51.5 221.6,51.6 223.7,51.7 225.5,51.7 226.5,51.7 227.3,51.7 228.1,51.7 228.9,51.6 229.7,51.6 230.5,51.5 231.4,51.4 232.3,51.3 233.3,51.2 234.2,51.1 235.1,50.9 236.0,50.8 236.8,50.7 237.7,50.5 238.5,50.4 239.4,50.3 240.2,50.2 241.0,50.1 241.8,50.0 242.5,50.0 243.3,50.0 244.1,50.0 244.8,50.0 245.6,50.1 246.4,50.2 247.2,50.4 248.0,50.6 248.8,50.8 249.5,51.1 250.3,51.4 251.1,51.8 251.9,52.3 252.7,52.8 253.5,53.3 254.3,53.8 255.1,54.4 255.9,55.0 256.7,55.6 257.5,56.3 258.3,56.9 259.1,57.6 259.9,58.2 260.7,58.8 261.5,59.4 262.3,59.9 263.1,60.5 263.9,61.0 264.7,61.6 265.5,62.2 266.3,62.7 267.0,63.3 267.8,63.8 268.6,64.3 269.4,64.9 270.2,65.5 271.1,66.1 271.9,66.7 272.7,67.2 273.5,67.8 274.2,68.3 274.6,68.6 275.0,68.9 275.4,69.2 275.8,69.5 276.1,69.8 276.6,70.2 277.5,70.9 278.5,71.8 279.6,72.7 280.8,73.7 281.9,74.7 282.9,75.7 283.8,76.6 284.7,77.6 285.5,78.5 286.3,79.5 287.2,80.5 288.0,81.5 288.9,82.5 289.7,83.5 290.6,84.6 291.4,85.6 292.3,86.7 293.1,87.8 294.0,89.0 294.8,90.2 295.6,91.5 296.5,92.7 297.3,94.0 298.2,95.3 299.3,96.8 300.4,98.3 301.5,99.8 302.7,101.4 303.8,103.0 304.8,104.5 305.7,105.9 306.5,107.3 307.3,108.8 308.1,110.2 308.8,111.6 309.6,113.0 310.4,114.4 311.2,115.8 311.9,117.2 312.7,118.6 313.5,120.1 314.3,121.5 315.2,123.0 316.1,124.5 317.0,126.1 317.9,127.6 318.8,129.1 319.6,130.7 320.3,132.2 321.0,133.7 321.6,135.2 322.2,136.8 322.9,138.3 323.5,139.8 324.1,141.3 324.8,142.7 325.4,144.2 326.1,145.7 326.7,147.3 327.5,149.0 328.7,151.8 330.1,154.9 331.5,158.1 333.0,161.5 334.5,164.9 336.0,168.2 337.5,171.7 339.1,175.2 340.7,178.7 342.3,182.3 343.8,185.8 345.4,189.2 346.8,192.4 348.3,195.5 349.7,198.5 351.1,201.6 352.6,204.7 354.0,207.8 355.5,211.0 357.0,214.3 358.5,217.5 360.0,220.8 361.5,224.0 363.0,227.3" fill="none" stroke="#38a535" stroke-width="2.0" stroke-linejoin="round" stroke-linecap="round"/>
<path d="M145.0,49.9 L148.1,46.5 L151.2,49.9 L148.1,53.3 Z" fill="#38a535"/>
<rect x="74" y="14.06" width="462.6" height="248.74" fill="none" stroke="#000" stroke-width="2"/>
<line x1="74" y1="49.60" x2="79" y2="49.60" stroke="#000" stroke-width="1.7"/>
<line x1="74" y1="85.14" x2="79" y2="85.14" stroke="#000" stroke-width="1.7"/>
<line x1="74" y1="120.68" x2="79" y2="120.68" stroke="#000" stroke-width="1.7"/>
<line x1="74" y1="156.22" x2="79" y2="156.22" stroke="#000" stroke-width="1.7"/>
<line x1="74" y1="191.76" x2="79" y2="191.76" stroke="#000" stroke-width="1.7"/>
<line x1="74" y1="227.30" x2="79" y2="227.30" stroke="#000" stroke-width="1.7"/>
<line x1="112.40" y1="263" x2="112.40" y2="258" stroke="#000" stroke-width="1.7"/>
<line x1="150.95" y1="263" x2="150.95" y2="258" stroke="#000" stroke-width="1.7"/>
<line x1="189.50" y1="263" x2="189.50" y2="258" stroke="#000" stroke-width="1.7"/>
<line x1="228.05" y1="263" x2="228.05" y2="258" stroke="#000" stroke-width="1.7"/>
<line x1="266.60" y1="263" x2="266.60" y2="258" stroke="#000" stroke-width="1.7"/>
<line x1="305.15" y1="263" x2="305.15" y2="258" stroke="#000" stroke-width="1.7"/>
<line x1="343.70" y1="263" x2="343.70" y2="258" stroke="#000" stroke-width="1.7"/>
<line x1="382.25" y1="263" x2="382.25" y2="258" stroke="#000" stroke-width="1.7"/>
<line x1="420.80" y1="263" x2="420.80" y2="258" stroke="#000" stroke-width="1.7"/>
<line x1="459.35" y1="263" x2="459.35" y2="258" stroke="#000" stroke-width="1.7"/>
<line x1="497.90" y1="263" x2="497.90" y2="258" stroke="#000" stroke-width="1.7"/>
<line x1="147" y1="104.85" x2="178" y2="104.85" stroke="#1b93db" stroke-width="2"/>
<line x1="147" y1="127.05" x2="178" y2="127.05" stroke="#f77b22" stroke-width="2"/>
<line x1="147" y1="149.25" x2="178" y2="149.25" stroke="#a3a3a3" stroke-width="2"/>
<line x1="147" y1="171.45" x2="178" y2="171.45" stroke="#ffc000" stroke-width="2"/>
<line x1="147" y1="193.65" x2="178" y2="193.65" stroke="#1f6dd2" stroke-width="2"/>
<line x1="147" y1="215.85" x2="178" y2="215.85" stroke="#38a535" stroke-width="2"/>
<g font-family="Liberation Serif, serif" font-size="15.5" fill="#474747" stroke="#474747" stroke-width="0.5"><text x="58.60" y="18.96" text-anchor="end" textLength="37.6" lengthAdjust="spacingAndGlyphs" font-size="16">110<tspan stroke-width="0.35" fill="#4d4d4d" stroke="#4d4d4d">%</tspan></text>
<text x="58.60" y="54.50" text-anchor="end" textLength="37.6" lengthAdjust="spacingAndGlyphs" font-size="16">100<tspan stroke-width="0.35" fill="#4d4d4d" stroke="#4d4d4d">%</tspan></text>
<text x="58.60" y="90.04" text-anchor="end" textLength="29" lengthAdjust="spacingAndGlyphs" font-size="16">90<tspan stroke-width="0.35" fill="#4d4d4d" stroke="#4d4d4d">%</tspan></text>
<text x="58.60" y="125.58" text-anchor="end" textLength="29" lengthAdjust="spacingAndGlyphs" font-size="16">80<tspan stroke-width="0.35" fill="#4d4d4d" stroke="#4d4d4d">%</tspan></text>
<text x="58.60" y="161.12" text-anchor="end" textLength="29" lengthAdjust="spacingAndGlyphs" font-size="16">70<tspan stroke-width="0.35" fill="#4d4d4d" stroke="#4d4d4d">%</tspan></text>
<text x="58.60" y="196.66" text-anchor="end" textLength="29" lengthAdjust="spacingAndGlyphs" font-size="16">60<tspan stroke-width="0.35" fill="#4d4d4d" stroke="#4d4d4d">%</tspan></text>
<text x="58.60" y="232.20" text-anchor="end" textLength="29" lengthAdjust="spacingAndGlyphs" font-size="16">50<tspan stroke-width="0.35" fill="#4d4d4d" stroke="#4d4d4d">%</tspan></text>
<text x="58.60" y="267.74" text-anchor="end" textLength="29" lengthAdjust="spacingAndGlyphs" font-size="16">40<tspan stroke-width="0.35" fill="#4d4d4d" stroke="#4d4d4d">%</tspan></text>
<text x="73.85" y="290.90" text-anchor="middle" font-size="16">0</text>
<text x="112.40" y="290.90" text-anchor="middle" font-size="16">1</text>
<text x="150.95" y="290.90" text-anchor="middle" font-size="16">2</text>
<text x="189.50" y="290.90" text-anchor="middle" font-size="16">3</text>
<text x="228.05" y="290.90" text-anchor="middle" font-size="16">4</text>
<text x="266.60" y="290.90" text-anchor="middle" font-size="16">5</text>
<text x="305.15" y="290.90" text-anchor="middle" font-size="16">6</text>
<text x="343.70" y="290.90" text-anchor="middle" font-size="16">7</text>
<text x="382.25" y="290.90" text-anchor="middle" font-size="16">8</text>
<text x="420.80" y="290.90" text-anchor="middle" font-size="16">9</text>
<text x="459.35" y="290.90" text-anchor="middle" font-size="16">10</text>
<text x="497.90" y="290.90" text-anchor="middle" font-size="16">11</text>
<text x="536.45" y="290.90" text-anchor="middle" font-size="16">12</text>
<text x="294.70" y="304.80" text-anchor="middle" textLength="139.5" lengthAdjust="spacingAndGlyphs">Output torque (Nm)</text>
<text transform="translate(19.3,144.9) rotate(-90)" stroke-width="0.5" text-anchor="middle" textLength="167.5" lengthAdjust="spacingAndGlyphs">Transmission efficiency</text>
<text x="130.40" y="45.90" text-anchor="middle" textLength="48" lengthAdjust="spacingAndGlyphs" font-size="16">99.97<tspan stroke-width="0.35" fill="#4d4d4d" stroke="#4d4d4d">%</tspan></text>
<text x="180.20" y="109.05" textLength="63" lengthAdjust="spacingAndGlyphs">3000 rpm</text>
<text x="180.20" y="131.25" textLength="63" lengthAdjust="spacingAndGlyphs">2500 rpm</text>
<text x="180.20" y="153.45" textLength="63" lengthAdjust="spacingAndGlyphs">2000 rpm</text>
<text x="180.20" y="175.65" textLength="63" lengthAdjust="spacingAndGlyphs">1500 rpm</text>
<text x="180.20" y="197.85" textLength="63" lengthAdjust="spacingAndGlyphs">1000 rpm</text>
<text x="180.20" y="220.05" textLength="55" lengthAdjust="spacingAndGlyphs">500 rpm</text></g></svg>
</body></html>
